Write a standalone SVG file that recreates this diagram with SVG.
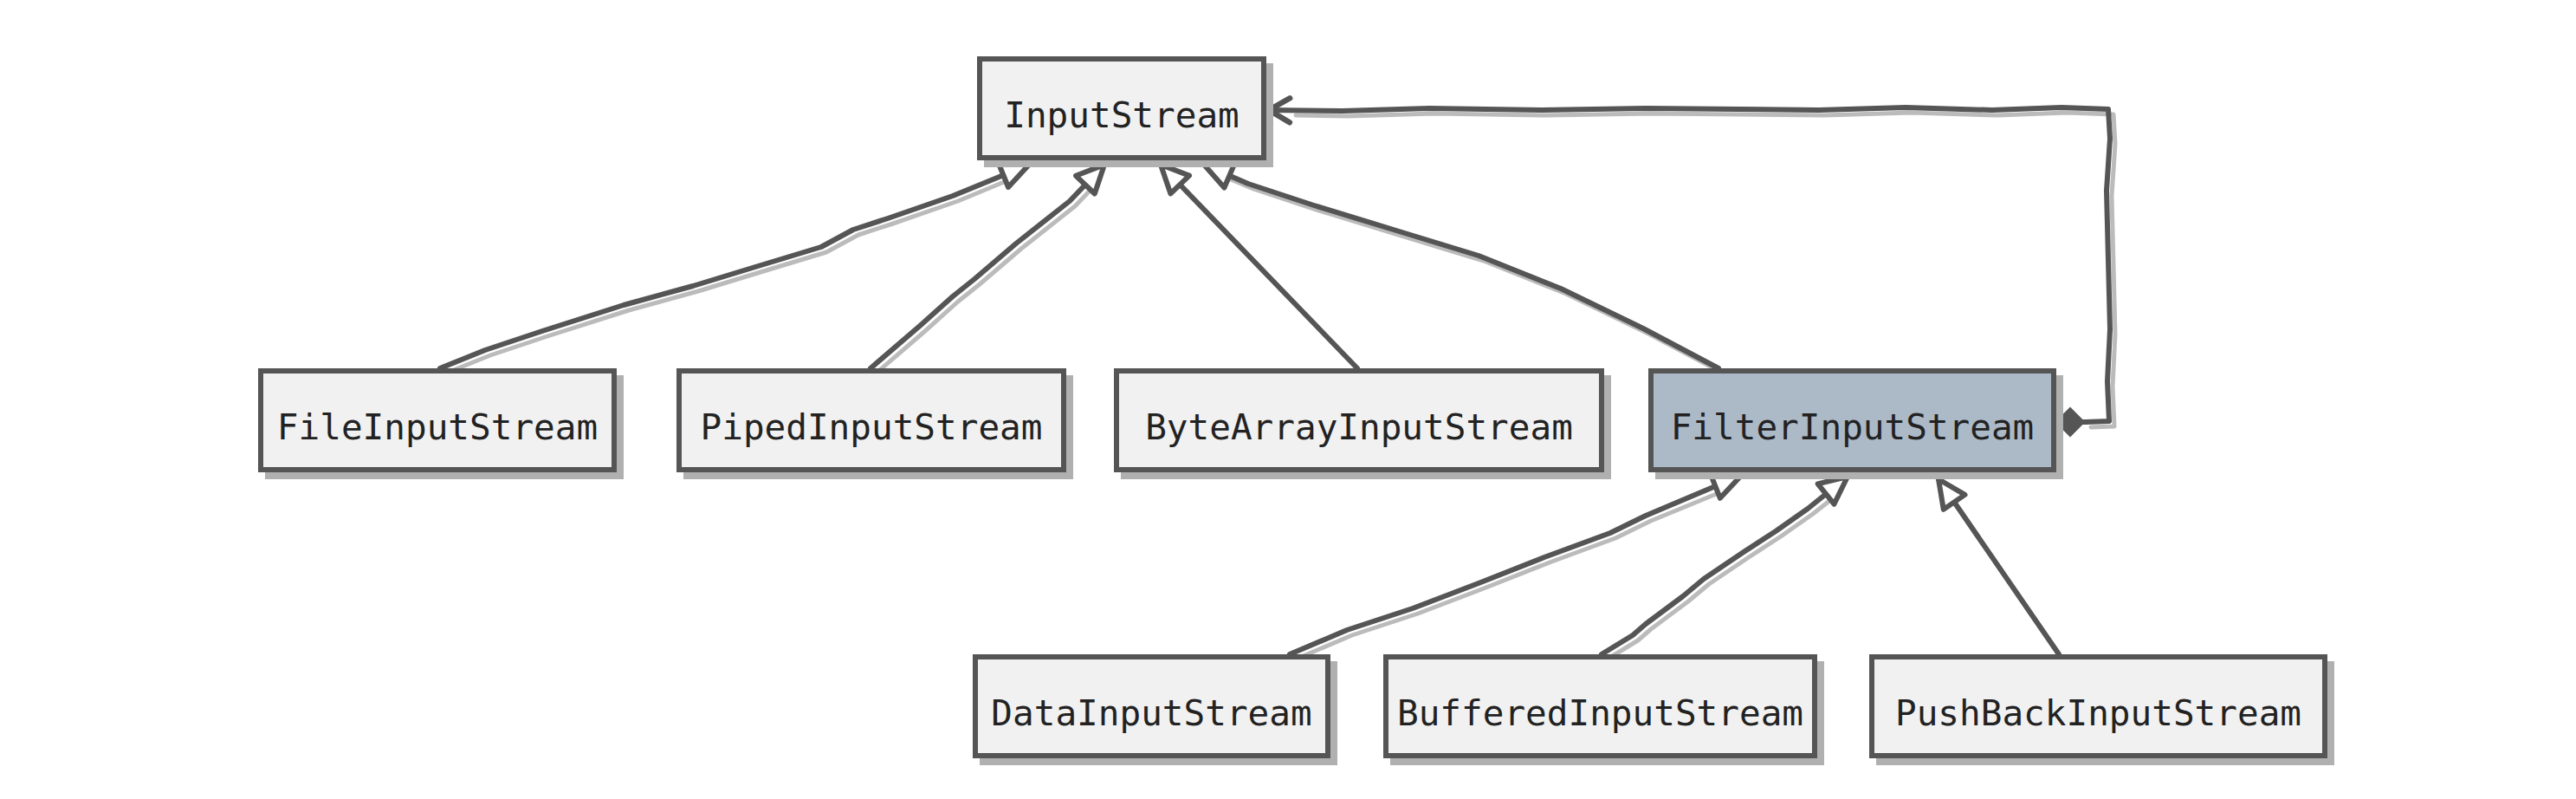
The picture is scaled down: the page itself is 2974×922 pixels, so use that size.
<svg xmlns="http://www.w3.org/2000/svg" width="2974" height="922" viewBox="0 0 2974 922">
<style>
.shadow{fill:#b0b0b0}
.box{fill:#f1f1f1;stroke:#555;stroke-width:6}
.hl{fill:#acb9c7}
.lbl{font-family:"DejaVu Sans Mono","Liberation Mono",monospace;font-size:41px;fill:#222;text-anchor:middle}
.ln{fill:none;stroke:#555;stroke-width:6;stroke-linejoin:round;stroke-linecap:round}
.lsh{fill:none;stroke:#bbb;stroke-width:5;stroke-linejoin:round;stroke-linecap:round}
</style>
<defs>
<marker id="tri" markerUnits="userSpaceOnUse" markerWidth="60" markerHeight="60" viewBox="-40 -30 60 60" refX="0" refY="0" orient="auto" overflow="visible">
<path d="M0,0 L-32,-15 L-32,15 Z" fill="#fff" stroke="#555" stroke-width="6" stroke-linejoin="round"/>
</marker>
<marker id="open" markerUnits="userSpaceOnUse" markerWidth="60" markerHeight="60" viewBox="-40 -30 60 60" refX="0" refY="0" orient="auto" overflow="visible">
<path d="M-24,-14 L0,0 L-24,14" fill="none" stroke="#555" stroke-width="6.5" stroke-linejoin="round" stroke-linecap="round"/>
</marker>
<marker id="dia" markerUnits="userSpaceOnUse" markerWidth="60" markerHeight="60" viewBox="-10 -30 60 60" refX="0" refY="0" orient="auto" overflow="visible">
<path d="M0,0 L16,-16 L32,0 L16,16 Z" fill="#555" stroke="#555" stroke-width="2"/>
</marker>
</defs>
<rect x="0" y="0" width="2974" height="922" fill="#fff"/>

<g id="connectors">
<g transform="translate(6,6)">
<path class="lsh" d="M508,425 L560,404 L626,382 L720,352 L800,330 L872,308 L948,285 L985,265 L1025,252 L1100,226 L1170,197"/>
<path class="lsh" d="M1005,425 L1062,376 L1100,342 L1125,322 L1173,281 L1235,232 L1258,208"/>
<path class="lsh" d="M1984,425 L1897,379 L1802,333 L1707,295 L1612,266 L1517,237 L1441,212 L1410,199"/>
<path class="lsh" d="M2408,487 L2435,486 L2433,440 L2436,380 L2434,300 L2432,220 L2436,160 L2434,126 L2380,124 L2300,127 L2200,124 L2100,127 L1900,125 L1780,127 L1650,125 L1550,128 L1490,127"/>
<path class="lsh" d="M1489,755 L1555,727 L1631,702 L1707,673 L1783,643 L1859,615 L1900,595 L1990,558"/>
<path class="lsh" d="M1849,755 L1885,733 L1900,720 L1943,688 L1967,668 L2013,637 L2050,613 L2087,587 L2115,565"/>
</g>
<path class="ln" marker-end="url(#tri)" d="M508,425 L560,404 L626,382 L720,352 L800,330 L872,308 L948,285 L985,265 L1025,252 L1100,226 L1188,190"/>
<path class="ln" marker-end="url(#tri)" d="M1005,425 L1062,376 L1100,342 L1125,322 L1173,281 L1235,232 L1275,190"/>
<path class="ln" marker-end="url(#tri)" d="M1567,425 L1340,190"/>
<path class="ln" marker-end="url(#tri)" d="M1984,425 L1897,379 L1802,333 L1707,295 L1612,266 L1517,237 L1441,212 L1390,190"/>
<path class="ln" marker-start="url(#dia)" marker-end="url(#open)" d="M2374,487 L2408,487 L2435,486 L2433,440 L2436,380 L2434,300 L2432,220 L2436,160 L2434,126 L2380,124 L2300,127 L2200,124 L2100,127 L1900,125 L1780,127 L1650,125 L1550,128 L1465,127"/>
<path class="ln" marker-end="url(#tri)" d="M1489,755 L1555,727 L1631,702 L1707,673 L1783,643 L1859,615 L1900,595 L1990,557 L2010,549"/>
<path class="ln" marker-end="url(#tri)" d="M1849,755 L1885,733 L1900,720 L1943,688 L1967,668 L2013,637 L2050,613 L2087,587 L2133,550"/>
<path class="ln" marker-end="url(#tri)" d="M2377,755 L2238,553"/>
</g>

<g id="InputStream">
<rect class="shadow" x="1136" y="73" width="334" height="120"/>
<rect class="box" x="1131" y="68" width="328" height="114"/>
<text class="lbl" x="1295" y="147">InputStream</text>
</g>
<g id="FileInputStream">
<rect class="shadow" x="306" y="433" width="414" height="120"/>
<rect class="box" x="301" y="428" width="408" height="114"/>
<text class="lbl" x="505" y="507">FileInputStream</text>
</g>
<g id="PipedInputStream">
<rect class="shadow" x="789" y="433" width="450" height="120"/>
<rect class="box" x="784" y="428" width="444" height="114"/>
<text class="lbl" x="1006" y="507">PipedInputStream</text>
</g>
<g id="ByteArrayInputStream">
<rect class="shadow" x="1294" y="433" width="566" height="120"/>
<rect class="box" x="1289" y="428" width="560" height="114"/>
<text class="lbl" x="1569" y="507">ByteArrayInputStream</text>
</g>
<g id="FilterInputStream">
<rect class="shadow" x="1911" y="433" width="471" height="120"/>
<rect class="box hl" x="1906" y="428" width="465" height="114"/>
<text class="lbl" x="2138.5" y="507">FilterInputStream</text>
</g>
<g id="DataInputStream">
<rect class="shadow" x="1131" y="763" width="413" height="120"/>
<rect class="box" x="1126" y="758" width="407" height="114"/>
<text class="lbl" x="1329.5" y="837">DataInputStream</text>
</g>
<g id="BufferedInputStream">
<rect class="shadow" x="1605" y="763" width="501" height="120"/>
<rect class="box" x="1600" y="758" width="495" height="114"/>
<text class="lbl" x="1847.5" y="837">BufferedInputStream</text>
</g>
<g id="PushBackInputStream">
<rect class="shadow" x="2166" y="763" width="529" height="120"/>
<rect class="box" x="2161" y="758" width="523" height="114"/>
<text class="lbl" x="2422.5" y="837">PushBackInputStream</text>
</g>
</svg>
